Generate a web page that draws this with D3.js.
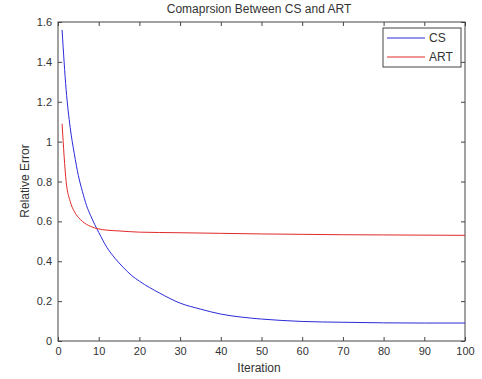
<!DOCTYPE html>
<html>
<head>
  <meta charset="utf-8">
  <title>CS vs ART</title>
  <script src="https://cdn.jsdelivr.net/npm/d3@7"></script>
  <style>
    body { margin: 0; background: #fff; }
    text { font-family: "Liberation Sans", Arial, sans-serif; fill: #333; }
  </style>
</head>
<body>
<svg id="chart" width="482" height="379"></svg>
<script>
  // values
  const csIter = [1, 2, 3, 4, 5, 6, 7, 8, 9, 10, 12, 14, 16, 18, 20, 25, 30, 35, 40, 45, 50, 55, 60, 70, 80, 90, 100];
  const csErr = [1.56, 1.26, 1.07, 0.94, 0.83, 0.75, 0.68, 0.63, 0.585, 0.545, 0.47, 0.415, 0.37, 0.33, 0.30, 0.24, 0.19, 0.16, 0.135, 0.12, 0.11, 0.103, 0.098, 0.094, 0.091, 0.09, 0.09];
  const artIter = [1, 2, 3, 4, 5, 6, 7, 8, 9, 10, 12, 15, 20, 30, 40, 50, 60, 70, 80, 100];
  const artErr = [1.09, 0.80, 0.70, 0.65, 0.62, 0.60, 0.585, 0.575, 0.567, 0.562, 0.556, 0.552, 0.546, 0.543, 0.54, 0.537, 0.535, 0.533, 0.532, 0.53];
  const xTicks = [0, 10, 20, 30, 40, 50, 60, 70, 80, 90, 100];
  const yTicks = [0, 0.2, 0.4, 0.6, 0.8, 1, 1.2, 1.4, 1.6];
  const seriesNames = ['CS', 'ART'];
  const seriesColors = ['#2a2ad8', '#e02a2a'];

  const svg = d3.select('#chart');
  const m = { left: 58, right: 465, top: 22, bottom: 341 };

  const x = d3.scaleLinear().domain([0, 100]).range([m.left, m.right]);
  const y = d3.scaleLinear().domain([0, 1.6]).range([m.bottom, m.top]);

  // axes with inward ticks, MATLAB box style
  const axColor = '#444';
  function styleAxis(g) {
    g.select('.domain').remove();
    g.selectAll('line').attr('stroke', axColor);
    g.selectAll('text').attr('font-size', 11).style('fill', '#333');
  }
  svg.append('g').attr('transform', `translate(0,${m.bottom})`)
    .call(d3.axisBottom(x).tickValues(xTicks).tickSizeInner(-4).tickSizeOuter(0).tickPadding(6).tickFormat(d3.format('d')))
    .call(styleAxis);
  svg.append('g').attr('transform', `translate(0,${m.top})`)
    .call(d3.axisTop(x).tickValues(xTicks).tickSizeInner(-4).tickSizeOuter(0).tickFormat(''))
    .call(styleAxis);
  svg.append('g').attr('transform', `translate(${m.left},0)`)
    .call(d3.axisLeft(y).tickValues(yTicks).tickSizeInner(-4).tickSizeOuter(0).tickPadding(6).tickFormat(d => d3.format('~g')(d)))
    .call(styleAxis);
  svg.append('g').attr('transform', `translate(${m.right},0)`)
    .call(d3.axisRight(y).tickValues(yTicks).tickSizeInner(-4).tickSizeOuter(0).tickFormat(''))
    .call(styleAxis);

  svg.append('rect')
    .attr('x', m.left).attr('y', m.top)
    .attr('width', m.right - m.left).attr('height', m.bottom - m.top)
    .attr('fill', 'none').attr('stroke', axColor).attr('stroke-width', 1);

  const line = d3.line().x(d => x(d[0])).y(d => y(d[1])).curve(d3.curveMonotoneX);
  const series = [d3.zip(csIter, csErr), d3.zip(artIter, artErr)];
  series.forEach((s, i) => {
    svg.append('path').datum(s)
      .attr('d', line)
      .attr('fill', 'none')
      .attr('stroke', seriesColors[i])
      .attr('stroke-width', 1);
  });

  // legend
  const lg = svg.append('g');
  lg.append('rect').attr('x', 383).attr('y', 28).attr('width', 78).attr('height', 39)
    .attr('fill', '#fff').attr('stroke', axColor);
  seriesNames.forEach((n, i) => {
    const ly = 38 + i * 19;
    lg.append('line').attr('x1', 387).attr('x2', 425).attr('y1', ly).attr('y2', ly)
      .attr('stroke', seriesColors[i]);
    lg.append('text').attr('x', 429).attr('y', ly + 4).attr('font-size', 12).text(n);
  });

  // titles
  svg.append('text').attr('x', 259).attr('y', 13).attr('text-anchor', 'middle')
    .attr('font-size', 12).text('Comaprsion Between CS and ART');
  svg.append('text').attr('x', 259).attr('y', 372).attr('text-anchor', 'middle')
    .attr('font-size', 12).text('Iteration');
  svg.append('text').attr('transform', 'translate(29,181) rotate(-90)').attr('text-anchor', 'middle')
    .attr('font-size', 12).text('Relative Error');
</script>
</body>
</html>
